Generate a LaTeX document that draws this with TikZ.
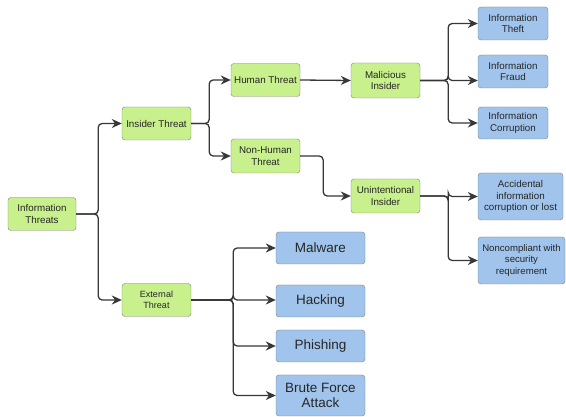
\documentclass[tikz,border=0pt]{standalone}
\usepackage{fontspec}
\setmainfont{Liberation Sans}
\usetikzlibrary{arrows.meta}
\usetikzlibrary{positioning}

\definecolor{greenbox}{RGB}{200,240,140}
\definecolor{bluebox}{RGB}{160,196,236}
\definecolor{edgegrey}{RGB}{55,55,55}

\begin{document}
\begin{tikzpicture}[x=1pt,y=-1pt,
        box/.style={draw=black!50, rounded corners=3pt, align=center, inner sep=1pt,
                font=\fontsize{9.8}{11.8}\selectfont, text=black!85},
        grn/.style={box, fill=greenbox, minimum width=69pt, minimum height=33pt},
        blu/.style={box, fill=bluebox, minimum width=70pt, minimum height=33pt},
        big/.style={blu, minimum width=89pt, minimum height=32pt, font=\fontsize{13.5}{15.5}\selectfont},
        conn/.style={draw=edgegrey, line width=1.3pt, rounded corners=4pt, -{Stealth[length=10pt,width=9pt]}}]

        	\path[fill=white] (0,0) rectangle (566,417);

        	% threat tree, left part
        	\node[grn, minimum width=68pt] (info) at (42,214) {Information\\Threats};
        	\node[grn] (insider) at (156.5,123.5) {Insider Threat};
        	\node[grn, font=\fontsize{9}{11.5}\selectfont] (external) at (156.5,300) {External\\Threat};
        	\node[grn] (human) at (265.5,80) {Human Threat};
        	\node[grn, minimum height=34pt] (nonhuman) at (265.5,156) {Non-Human\\Threat};
        	\node[grn, minimum height=35pt] (malicious) at (385.5,80.5) {Malicious\\Insider};
        	\node[grn, minimum height=34pt] (unintent) at (385.5,196) {Unintentional\\Insider};

        	% leaves
        	\node[blu] (theft) at (513,23.5) {Information\\Theft};
        	\node[blu] (fraud) at (513,71.5) {Information\\Fraud};
        	\node[blu, minimum height=32pt] (corrupt) at (513,123) {Information\\Corruption};
        	\node[blu, minimum width=85pt, minimum height=47pt] (accident) at (520.5,196.5) {Accidental\\information\\corruption or lost};
        	\node[blu, minimum width=87pt, minimum height=47pt, font=\fontsize{9.6}{11.8}\selectfont] (noncompl) at (521.5,260.5) {Noncompliant with\\security\\requirement};

        	\node[big] (malware) at (320.5,248) {Malware};
        	\node[big] (hacking) at (320.5,301) {Hacking};
        	\node[big] (phishing) at (320.5,346) {Phishing};
        	\node[big, minimum height=41pt] (brute) at (320.5,395.5) {Brute Force\\Attack};

        	\draw[conn] (info.east) -- ++(22,0) |- (insider.west);
        	\draw[conn] (info.east) -- ++(22,0) |- (external.west);

        	\draw[conn] (insider.east) -- ++(18,0) |- (human.west);
        	\draw[conn] (insider.east) -- ++(18,0) |- (nonhuman.west);

        	\draw[conn] (human.east) -- (malicious.west);
        	\draw[conn] (nonhuman.east) -- ++(23,0) |- (unintent.west);

        	\draw[conn] (malicious.east) -- ++(28,0) |- (theft.west);
        	\draw[conn] (malicious.east) -- ++(28,0) |- (fraud.west |- malicious.east);
        	\draw[conn] (malicious.east) -- ++(28,0) |- (corrupt.west);

        	\draw[conn] (unintent.east) -- ++(28,0) |- (accident.west);
        	\draw[conn] (unintent.east) -- ++(28,0) |- (noncompl.west);

        	\draw[conn] (external.east) -- ++(42,0) |- (malware.west);
        	\draw[conn] (external.east) -- ++(42,0) |- (hacking.west |- external.east);
        	\draw[conn] (external.east) -- ++(42,0) |- (phishing.west);
        	\draw[conn] (external.east) -- ++(42,0) |- (brute.west);

        \end{tikzpicture}
\end{document}
